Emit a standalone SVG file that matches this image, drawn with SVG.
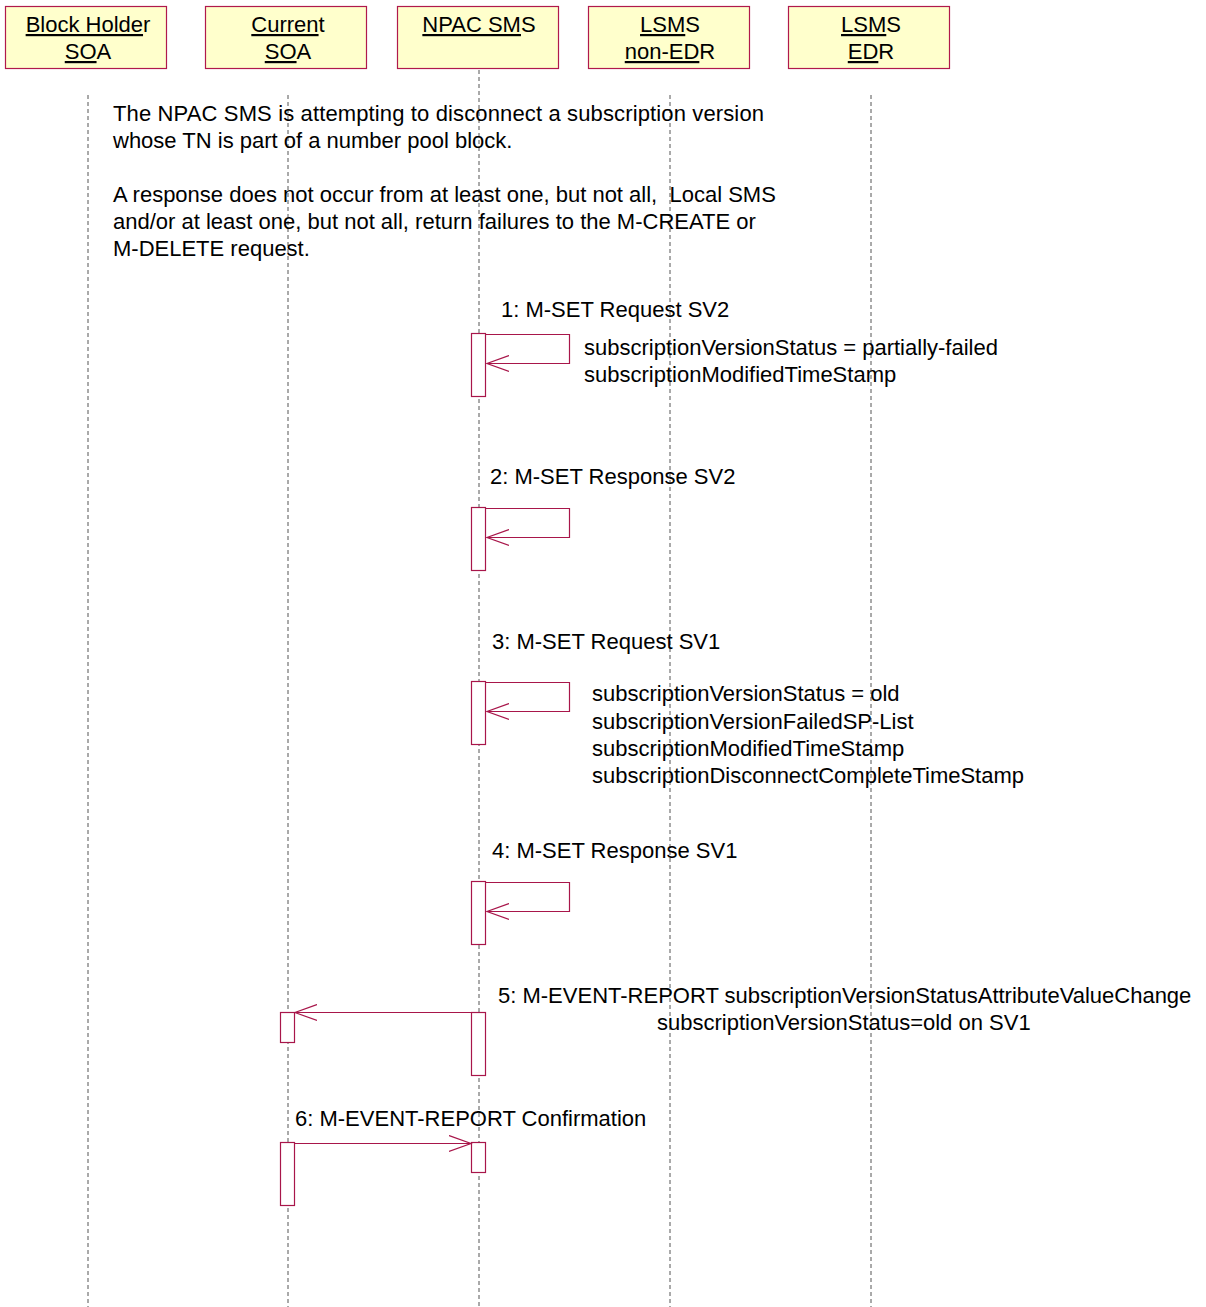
<svg xmlns="http://www.w3.org/2000/svg" width="1206" height="1307" viewBox="0 0 1206 1307">
<style>
.hdr{fill:#FFFFCC;stroke:#B0194C;stroke-width:1.2}
.t{font-family:"Liberation Sans",Arial,sans-serif;font-size:22px;fill:#000}
.u{text-decoration:underline}
.life{stroke:#555;stroke-width:1;stroke-dasharray:4,3;fill:none}
.act{fill:#fff;stroke:#A8164A;stroke-width:1.2}
.msg{stroke:#A8164A;stroke-width:1.2;fill:none}
</style>
<defs>
<marker id="ah" markerWidth="24" markerHeight="18" refX="22" refY="9" orient="auto" markerUnits="userSpaceOnUse">
<path d="M0,1 L22,9 L0,17" fill="none" stroke="#A8164A" stroke-width="1.2"/>
</marker>
</defs>
<rect width="1206" height="1307" fill="#fff"/>
<g id="lifelines">
<line class="life" x1="88" y1="95" x2="88" y2="1307"/>
<line class="life" x1="288" y1="95" x2="288" y2="1307"/>
<line class="life" x1="479" y1="70" x2="479" y2="1307"/>
<line class="life" x1="670" y1="95" x2="670" y2="1307"/>
<line class="life" x1="871" y1="95" x2="871" y2="1307"/>
</g>
<g id="node-blockholder">
<rect class="hdr" x="5.5" y="6.5" width="161" height="62"/>
<text class="t" x="88" y="32" text-anchor="middle"><tspan class="u">Block Holde</tspan>r</text>
<text class="t" x="88" y="59" text-anchor="middle"><tspan class="u">SO</tspan>A</text>
</g>
<g id="node-currentsoa">
<rect class="hdr" x="205.5" y="6.5" width="161" height="62"/>
<text class="t" x="288" y="32" text-anchor="middle"><tspan class="u">Curren</tspan>t</text>
<text class="t" x="288" y="59" text-anchor="middle"><tspan class="u">SO</tspan>A</text>
</g>
<g id="node-npac">
<rect class="hdr" x="397.5" y="6.5" width="161" height="62"/>
<text class="t" x="479" y="32" text-anchor="middle"><tspan class="u">NPAC SM</tspan>S</text>
</g>
<g id="node-lsms-nonedr">
<rect class="hdr" x="588.5" y="6.5" width="161" height="62"/>
<text class="t" x="670" y="32" text-anchor="middle"><tspan class="u">LSM</tspan>S</text>
<text class="t" x="670" y="59" text-anchor="middle"><tspan class="u">non-ED</tspan>R</text>
</g>
<g id="node-lsms-edr">
<rect class="hdr" x="788.5" y="6.5" width="161" height="62"/>
<text class="t" x="871" y="32" text-anchor="middle"><tspan class="u">LSM</tspan>S</text>
<text class="t" x="871" y="59" text-anchor="middle"><tspan class="u">ED</tspan>R</text>
</g>
<g id="note">
<text class="t" x="113" y="121" textLength="651" lengthAdjust="spacing">The NPAC SMS is attempting to disconnect a subscription version</text>
<text class="t" x="113" y="148">whose TN is part of a number pool block.</text>
<text class="t" x="113" y="202">A response does not occur from at least one, but not all,&#160; Local SMS</text>
<text class="t" x="113" y="229">and/or at least one, but not all, return failures to the M-CREATE or</text>
<text class="t" x="113" y="256">M-DELETE request.</text>
</g>
<g id="activations">
<rect class="act" x="471.5" y="333.5" width="14" height="63"/>
<rect class="act" x="471.5" y="507.5" width="14" height="63"/>
<rect class="act" x="471.5" y="681.5" width="14" height="63"/>
<rect class="act" x="471.5" y="881.5" width="14" height="63"/>
<rect class="act" x="471.5" y="1012.5" width="14" height="63"/>
<rect class="act" x="280.5" y="1012.5" width="14" height="30"/>
<rect class="act" x="280.5" y="1142.5" width="14" height="63"/>
<rect class="act" x="471.5" y="1142.5" width="14" height="30"/>
</g>
<g id="connectors">
<path class="msg" d="M485.5,334.5 H569.5 V363.5 H487" marker-end="url(#ah)"/>
<path class="msg" d="M485.5,508.5 H569.5 V537.5 H487" marker-end="url(#ah)"/>
<path class="msg" d="M485.5,682.5 H569.5 V711.5 H487" marker-end="url(#ah)"/>
<path class="msg" d="M485.5,882.5 H569.5 V911.5 H487" marker-end="url(#ah)"/>
<path class="msg" d="M471.5,1012.5 H295" marker-end="url(#ah)"/>
<path class="msg" d="M295,1143.5 H471" marker-end="url(#ah)"/>
</g>
<g id="labels">
<text class="t" x="501" y="317">1: M-SET Request SV2</text>
<text class="t" x="584" y="355">subscriptionVersionStatus = partially-failed</text>
<text class="t" x="584" y="382">subscriptionModifiedTimeStamp</text>
<text class="t" x="490" y="484">2: M-SET Response SV2</text>
<text class="t" x="492" y="649">3: M-SET Request SV1</text>
<text class="t" x="592" y="701">subscriptionVersionStatus = old</text>
<text class="t" x="592" y="729">subscriptionVersionFailedSP-List</text>
<text class="t" x="592" y="756">subscriptionModifiedTimeStamp</text>
<text class="t" x="592" y="783">subscriptionDisconnectCompleteTimeStamp</text>
<text class="t" x="492" y="858">4: M-SET Response SV1</text>
<text class="t" x="498" y="1003">5: M-EVENT-REPORT subscriptionVersionStatusAttributeValueChange</text>
<text class="t" x="657" y="1030">subscriptionVersionStatus=old on SV1</text>
<text class="t" x="295" y="1126">6: M-EVENT-REPORT Confirmation</text>
</g>
</svg>
